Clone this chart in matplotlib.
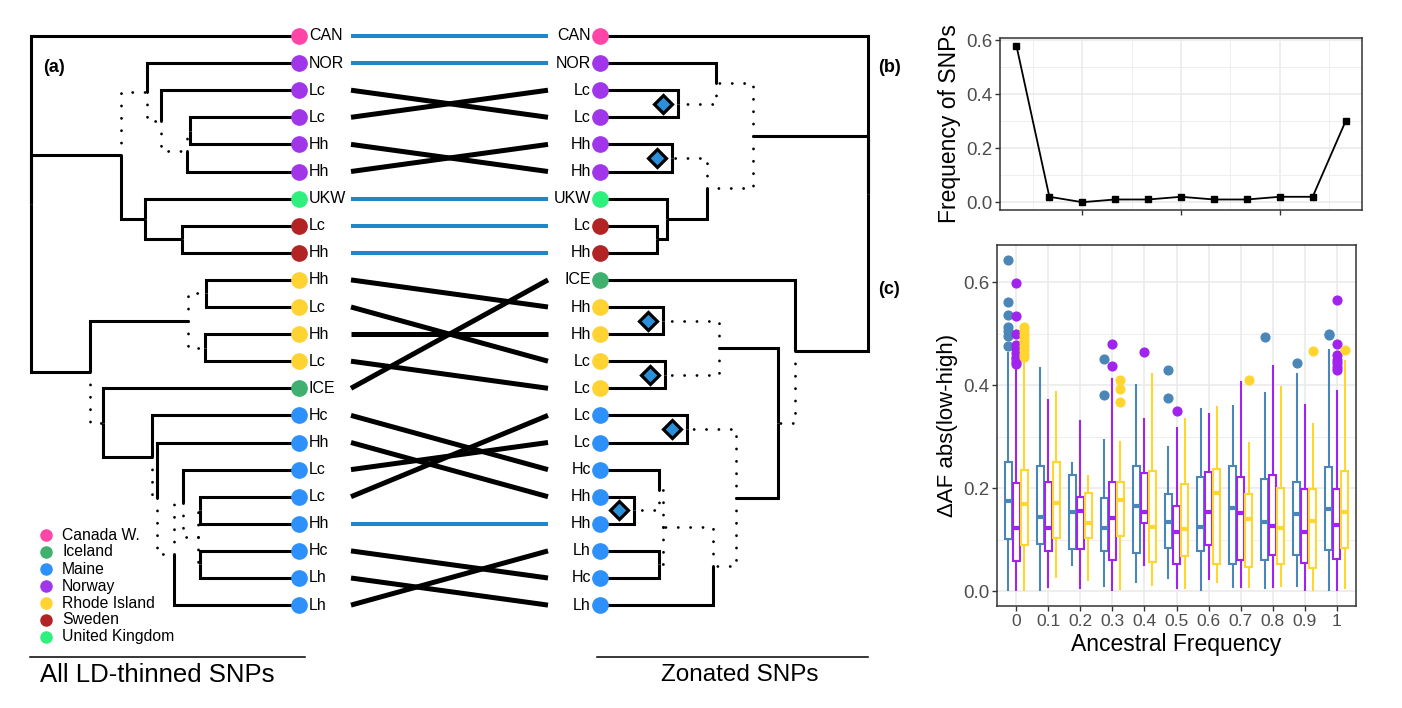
import matplotlib
matplotlib.use("Agg")
import matplotlib.pyplot as plt

plt.rcParams['font.family'] = ['Liberation Sans', 'DejaVu Sans']

# ------------------------------------------------------------------ data
pop_colors = {
    "Canada W.": "#FF45A8",
    "Iceland": "#3FB06E",
    "Maine": "#2E90FA",
    "Norway": "#A035EA",
    "Rhode Island": "#FFD332",
    "Sweden": "#B22424",
    "United Kingdom": "#2EF07E",
}
legend_order = ["Canada W.", "Iceland", "Maine", "Norway", "Rhode Island",
                "Sweden", "United Kingdom"]

left_labels = ["CAN", "NOR", "Lc", "Lc", "Hh", "Hh", "UKW", "Lc", "Hh",
               "Hh", "Lc", "Hh", "Lc", "ICE", "Hc", "Hh", "Lc", "Lc", "Hh",
               "Hc", "Lh", "Lh"]
left_pops = ["Canada W.", "Norway", "Norway", "Norway", "Norway", "Norway",
             "United Kingdom", "Sweden", "Sweden", "Rhode Island",
             "Rhode Island", "Rhode Island", "Rhode Island", "Iceland",
             "Maine", "Maine", "Maine", "Maine", "Maine", "Maine", "Maine",
             "Maine"]
right_labels = ["CAN", "NOR", "Lc", "Lc", "Hh", "Hh", "UKW", "Lc", "Hh",
                "ICE", "Hh", "Hh", "Lc", "Lc", "Lc", "Lc", "Hc", "Hh", "Hh",
                "Lh", "Hc", "Lh"]
right_pops = ["Canada W.", "Norway", "Norway", "Norway", "Norway", "Norway",
              "United Kingdom", "Sweden", "Sweden", "Iceland",
              "Rhode Island", "Rhode Island", "Rhode Island", "Rhode Island",
              "Maine", "Maine", "Maine", "Maine", "Maine", "Maine", "Maine",
              "Maine"]
# tanglegram links: left tip i -> right tip link_target[i]
link_target = [0, 1, 3, 2, 5, 4, 6, 7, 8, 10, 12, 11, 13, 9, 16, 17, 15, 14,
               18, 20, 21, 19]
link_same = [True, True, False, False, False, False, True, True, True, False,
             False, False, False, False, False, False, False, False, True,
             False, False, False]


def node(depth, *kids, dotted=False, mark=False):
    return {"x": depth, "kids": list(kids), "dotted": dotted, "mark": mark}


# left tree (all LD-thinned SNPs); depth increases towards tips
left_tree = node(31,
    0,
    node(121,
         node(147, 1,
              node(161, 2,
                   node(187, node(190, 3, 4, dotted=True), 5, dotted=True),
                   dotted=True),
              dotted=True),
         node(145, 6, node(182, 7, 8))),
    node(90,
         node(188, node(206, 9, 10, dotted=True),
              node(205, 11, 12, dotted=True)),
         node(103, 13,
              node(152, 14,
                   node(157, 15,
                        node(174,
                             node(183, 16,
                                  node(198, node(200, 17, 18, dotted=True),
                                       node(200, 19, 20, dotted=True),
                                       dotted=True),
                                  dotted=True),
                             21, dotted=True),
                        dotted=True)),
              dotted=True)))

# right tree (zonated SNPs); depth decreases towards tips
right_tree = node(868,
    0,
    node(753,
         node(716, 1, node(678, 2, 3, dotted=True, mark=True), dotted=True),
         node(707, node(672, 4, 5, dotted=True, mark=True),
              node(667, 6, node(657, 7, 8)), dotted=True)),
    node(795, 9,
         node(778,
              node(719, node(663, 10, 11, dotted=True, mark=True),
                   node(665, 12, 13, dotted=True, mark=True)),
              node(736, node(687, 14, 15, dotted=True, mark=True),
                   node(713,
                        node(663,
                             node(659, 16,
                                  node(634, 17, 18, dotted=True, mark=True),
                                  dotted=True),
                             node(659, 19, 20, dotted=True),
                             dotted=True),
                        21, dotted=True)),
              dotted=True)))

# panel (b)
anc_freq = [0.0, 0.1, 0.2, 0.3, 0.4, 0.5, 0.6, 0.7, 0.8, 0.9, 1.0]
snp_freq = [0.58, 0.02, 0.0, 0.01, 0.01, 0.02, 0.01, 0.01, 0.02, 0.02, 0.30]

# panel (c): box statistics
anc_labels = ["0", "0.1", "0.2", "0.3", "0.4", "0.5", "0.6", "0.7", "0.8",
              "0.9", "1"]
groups = ["blue", "purple", "yellow"]
group_colors = {"blue": "#4A86B8", "purple": "#A024EE", "yellow": "#FFD52E"}

whislo = {
    "blue":   [0.002, 0.002, 0.050, 0.010, 0.017, 0.026, 0.003, 0.007, 0.005, 0.010, 0.002],
    "purple": [0.002, 0.008, 0.006, 0.002, 0.050, 0.005, 0.024, 0.008, 0.008, 0.002, 0.002],
    "yellow": [0.002, 0.028, 0.021, 0.004, 0.012, 0.005, 0.018, 0.007, 0.010, 0.003, 0.005],
}
q1 = {
    "blue":   [0.101, 0.091, 0.081, 0.077, 0.073, 0.084, 0.078, 0.052, 0.060, 0.070, 0.080],
    "purple": [0.059, 0.078, 0.082, 0.060, 0.132, 0.052, 0.090, 0.061, 0.070, 0.054, 0.063],
    "yellow": [0.090, 0.104, 0.104, 0.107, 0.057, 0.068, 0.052, 0.047, 0.052, 0.045, 0.084],
}
med = {
    "blue":   [0.175, 0.143, 0.153, 0.123, 0.165, 0.135, 0.125, 0.162, 0.135, 0.149, 0.159],
    "purple": [0.123, 0.122, 0.156, 0.142, 0.154, 0.114, 0.154, 0.152, 0.127, 0.114, 0.128],
    "yellow": [0.169, 0.171, 0.133, 0.176, 0.125, 0.120, 0.191, 0.139, 0.122, 0.137, 0.154],
}
q3 = {
    "blue":   [0.251, 0.243, 0.225, 0.180, 0.243, 0.188, 0.221, 0.243, 0.217, 0.212, 0.241],
    "purple": [0.209, 0.211, 0.182, 0.211, 0.230, 0.165, 0.232, 0.221, 0.225, 0.198, 0.198],
    "yellow": [0.235, 0.250, 0.190, 0.211, 0.234, 0.208, 0.238, 0.188, 0.201, 0.199, 0.233],
}
whishi = {
    "blue":   [0.462, 0.434, 0.248, 0.293, 0.400, 0.280, 0.353, 0.360, 0.384, 0.421, 0.468],
    "purple": [0.436, 0.371, 0.331, 0.412, 0.334, 0.317, 0.344, 0.406, 0.437, 0.362, 0.389],
    "yellow": [0.452, 0.387, 0.224, 0.289, 0.421, 0.335, 0.357, 0.287, 0.397, 0.324, 0.447],
}
fliers = {
    "blue": [[0.642, 0.562, 0.536, 0.512, 0.505, 0.496, 0.476], [], [],
             [0.450, 0.381], [], [0.429, 0.375], [], [], [0.494], [0.443],
             [0.500, 0.497]],
    "purple": [[0.599, 0.535, 0.500, 0.478, 0.470, 0.462, 0.455, 0.450, 0.445, 0.440],
               [], [], [0.479, 0.437], [0.465], [0.349], [], [], [], [],
               [0.566, 0.479, 0.458, 0.449, 0.442, 0.436, 0.429]],
    "yellow": [[0.513, 0.505, 0.498, 0.490, 0.483, 0.475, 0.468, 0.460, 0.455],
               [], [], [0.410, 0.393, 0.368], [], [], [], [0.410], [],
               [0.467], [0.468]],
}

# ------------------------------------------------------------------ layout
W, H = 1402, 708
Y0, DY = 36.0, 27.1          # pixel row of first tip and tip spacing
LEFT_TIP_X, RIGHT_TIP_X = 299, 600
LINK_X0, LINK_X1 = 351, 548

fig = plt.figure(figsize=(W / 100, H / 100), dpi=100)

ov = fig.add_axes([0, 0, 1, 1])
ov.set_xlim(0, W)
ov.set_ylim(H, 0)
ov.axis("off")

tr = fig.add_axes([0, 0, 1, 1])
tr.set_xlim(0, W)
tr.set_ylim((H - Y0) / DY, -Y0 / DY)
tr.axis("off")

SOLID = dict(color="black", lw=2.2, solid_joinstyle="miter",
             solid_capstyle="butt", zorder=2)
DOTTED = dict(color="black", lw=2.0, linestyle=(0, (0.05, 4.4)),
              dash_capstyle="round", zorder=2)


def set_y(n):
    if isinstance(n, int):
        return float(n)
    ys = [set_y(k) for k in n["kids"]]
    n["y"] = (min(ys) + max(ys)) / 2.0
    return n["y"]


def draw_tree(n, tip_x, marks):
    for k in n["kids"]:
        if isinstance(k, int):
            xc, yc, dotted = tip_x, float(k), False
        else:
            xc, yc, dotted = k["x"], k["y"], k["dotted"]
            draw_tree(k, tip_x, marks)
        tr.plot([n["x"], n["x"], xc], [n["y"], yc, yc],
                **(DOTTED if dotted else SOLID))
    if n["mark"]:
        marks.append((n["x"], n["y"]))


set_y(left_tree)
set_y(right_tree)
lm, rm = [], []
draw_tree(left_tree, LEFT_TIP_X, lm)
draw_tree(right_tree, RIGHT_TIP_X, rm)

# node marks (diamonds), placed just inside the collapsed pair
for (x, y) in rm:
    tr.plot(x - 15, y, marker="D", ms=9.5, mfc="#2A90DA", mec="black",
            mew=2.3, zorder=5)

# tips
for i, (lab, pop) in enumerate(zip(left_labels, left_pops)):
    tr.plot(LEFT_TIP_X, i, "o", ms=11, color=pop_colors[pop], zorder=4)
    tr.text(LEFT_TIP_X + 10, i, lab, ha="left", va="center", fontsize=11.5)
for i, (lab, pop) in enumerate(zip(right_labels, right_pops)):
    tr.plot(RIGHT_TIP_X, i, "o", ms=11, color=pop_colors[pop], zorder=4)
    tr.text(RIGHT_TIP_X - 9, i, lab, ha="right", va="center", fontsize=11.5)

# links
for i, (j, same) in enumerate(zip(link_target, link_same)):
    if same:
        tr.plot([LINK_X0, LINK_X1], [i, j], color="#1D87CA", lw=2.9,
                solid_capstyle="butt", zorder=1)
    else:
        tr.plot([LINK_X0, LINK_X1], [i, j], color="black", lw=3.6,
                solid_capstyle="butt", zorder=1)

# legend
for k, name in enumerate(legend_order):
    yy = 535 + k * 17
    ov.plot(46, yy, "o", ms=8, color=pop_colors[name])
    ov.text(62, yy, name, ha="left", va="center", fontsize=11.3)

# bottom captions
ov.plot([30, 305], [657, 657], color="black", lw=1.1)
ov.plot([597, 868], [657, 657], color="black", lw=1.1)
ov.text(157, 675, "All LD-thinned SNPs", ha="center", va="center",
        fontsize=18.5)
ov.text(740, 675, "Zonated SNPs", ha="center", va="center", fontsize=17.5)

# panel letters
ov.text(43, 68, "(a)", ha="left", va="center", fontsize=13,
        fontweight="bold")
ov.text(878, 68, "(b)", ha="left", va="center", fontsize=13,
        fontweight="bold")
ov.text(878, 290, "(c)", ha="left", va="center", fontsize=13,
        fontweight="bold")

# ------------------------------------------------------------------ styling helper
GRID = "#EBEBEB"
TXT = "#4D4D4D"


def style(ax):
    ax.set_facecolor("white")
    for s in ax.spines.values():
        s.set_color("#333333")
        s.set_linewidth(1.1)
    ax.tick_params(axis="both", which="major", length=3.5, width=1.0,
                   color="#333333", labelcolor=TXT, labelsize=12.5, pad=2)
    ax.tick_params(axis="y", which="major", labelsize=13.5)
    ax.tick_params(axis="both", which="minor", length=0)
    ax.grid(which="major", color=GRID, lw=1.2)
    ax.grid(which="minor", color=GRID, lw=0.6)
    ax.set_axisbelow(True)


# ------------------------------------------------------------------ panel (b)
axb = fig.add_axes([1000 / W, 1 - 210 / H, 362 / W, 172 / H])
style(axb)
axb.plot(anc_freq, snp_freq, color="black", lw=1.3, marker="s", ms=4.5)
axb.set_xlim(-0.05, 1.05)
axb.set_ylim(-0.029, 0.609)
axb.set_yticks([0.0, 0.2, 0.4, 0.6])
axb.set_yticklabels(["0.0", "0.2", "0.4", "0.6"])
axb.set_yticks([0.1, 0.3, 0.5], minor=True)
axb.set_xticks([0.2, 0.5, 0.8])
axb.set_xticklabels([])
axb.set_xticks([0.05, 0.35, 0.65, 0.95], minor=True)
axb.set_ylabel("Frequency of SNPs", fontsize=16.5, labelpad=4)

# ------------------------------------------------------------------ panel (c)
axc = fig.add_axes([997 / W, 1 - 606 / H, 359 / W, 361 / H])
style(axc)
offsets = {"blue": -0.25, "purple": 0.0, "yellow": 0.25}
for g in groups:
    c = group_colors[g]
    stats = []
    for i in range(len(anc_labels)):
        stats.append(dict(whislo=whislo[g][i], q1=q1[g][i], med=med[g][i],
                          q3=q3[g][i], whishi=whishi[g][i],
                          fliers=fliers[g][i]))
    pos = [i + 1 + offsets[g] for i in range(len(anc_labels))]
    axc.bxp(stats, positions=pos, widths=0.23, patch_artist=True,
            showcaps=False, manage_ticks=False,
            boxprops=dict(facecolor="white", edgecolor=c, lw=1.5),
            whiskerprops=dict(color=c, lw=1.5),
            medianprops=dict(color=c, lw=3.0, solid_capstyle="butt"),
            flierprops=dict(marker="o", mfc=c, mec=c, ms=6.3))
axc.set_xlim(0.4, 11.6)
axc.set_ylim(-0.029, 0.672)
axc.set_xticks(range(1, len(anc_labels) + 1))
axc.set_xticklabels(anc_labels)
axc.set_yticks([0.0, 0.2, 0.4, 0.6])
axc.set_yticklabels(["0.0", "0.2", "0.4", "0.6"])
axc.set_yticks([0.1, 0.3, 0.5], minor=True)
axc.set_xlabel("Ancestral Frequency", fontsize=16.5, labelpad=3)
axc.set_ylabel("\u0394AF abs(low-high)", fontsize=16, labelpad=4)

fig.savefig("out.png", dpi=100)
